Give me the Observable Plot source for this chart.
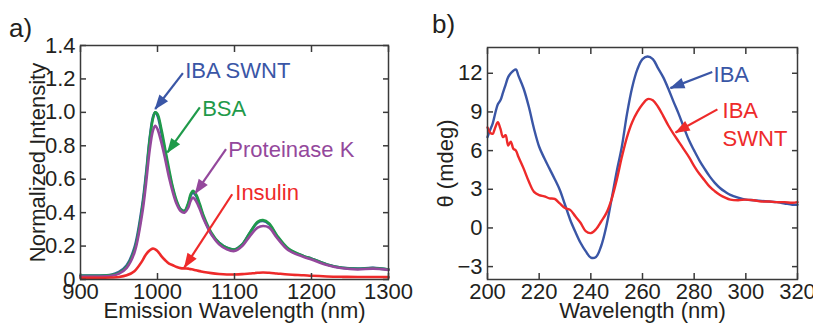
<!DOCTYPE html>
<html><head><meta charset="utf-8">
<script src="https://cdn.jsdelivr.net/npm/d3@7"></script>
<script src="https://cdn.jsdelivr.net/npm/@observablehq/plot@0.6"></script>
<style>
body{margin:0;background:#fff;}
#wrap{position:relative;width:813px;height:326px;font-family:"Liberation Sans",Arial,sans-serif;color:#231f20;}
#pa,#pb{position:absolute;top:0;}
#pa{left:0;} #pb{left:410px;}
.lab{position:absolute;font-size:26px;line-height:26px;}
</style></head>
<body><div id="wrap"><div id="pa"></div><div id="pb"></div>
<div class="lab" style="left:9px;top:15px">a)</div>
<div class="lab" style="left:432px;top:11px">b)</div></div>
<script>
// Panel a: emission spectra
const emWl = [900,920,940,950,960,970,980,985,990,994,997,1000,1005,1010,1015,1020,1025,1030,1035,1040,1043,1046,1050,1055,1060,1070,1080,1090,1100,1110,1120,1130,1137,1145,1155,1170,1190,1200,1220,1240,1260,1280,1300];
const ibaSwnt = [0.024,0.024,0.028,0.045,0.085,0.19,0.44,0.63,0.85,0.97,1.0,0.98,0.88,0.76,0.64,0.54,0.46,0.42,0.41,0.45,0.50,0.52,0.50,0.44,0.37,0.27,0.22,0.19,0.18,0.21,0.28,0.34,0.35,0.33,0.26,0.18,0.14,0.125,0.09,0.07,0.065,0.07,0.06];
const bsa = [0.022,0.022,0.026,0.04,0.078,0.175,0.42,0.61,0.84,0.96,1.0,0.99,0.90,0.78,0.66,0.55,0.47,0.42,0.41,0.46,0.51,0.53,0.51,0.45,0.38,0.28,0.22,0.19,0.18,0.21,0.28,0.345,0.355,0.335,0.265,0.185,0.14,0.125,0.09,0.07,0.064,0.068,0.06];
const protK = [0.018,0.018,0.022,0.035,0.07,0.16,0.39,0.57,0.78,0.89,0.92,0.90,0.82,0.72,0.61,0.52,0.45,0.41,0.40,0.43,0.47,0.49,0.47,0.42,0.36,0.27,0.21,0.18,0.17,0.20,0.26,0.31,0.32,0.31,0.25,0.175,0.135,0.12,0.087,0.067,0.06,0.065,0.057];
const insulin = [0.01,0.01,0.012,0.015,0.025,0.05,0.11,0.15,0.175,0.185,0.18,0.17,0.14,0.115,0.095,0.085,0.075,0.068,0.066,0.065,0.062,0.06,0.055,0.05,0.045,0.038,0.033,0.03,0.03,0.032,0.036,0.04,0.042,0.04,0.036,0.03,0.025,0.022,0.018,0.016,0.015,0.015,0.014];
const xTicksA = [900,1000,1100,1200,1300];
const yTicksA = [0,0.2,0.4,0.6,0.8,1.0,1.2,1.4];

// Panel b: CD spectra
const cdWl = [200,201,202,203,204,205,206,207,208,209,210,211,212,214,216,218,220,222,224,226,228,230,232,234,236,238,240,242,244,246,248,250,252,254,256,258,260,262,264,266,268,270,272,274,276,278,280,282,284,286,288,290,292,294,297,300,303,306,309,312,315,318,320];
const iba = [7.05,7.6,8.1,8.9,9.6,9.9,10.5,11.1,11.7,12.0,12.2,12.3,11.8,10.8,9.4,7.7,6.3,5.4,4.6,3.8,2.95,1.8,0.64,-0.3,-1.15,-1.8,-2.3,-2.25,-1.4,0.13,2.2,4.36,6.3,8.85,10.9,12.3,13.1,13.3,13.1,12.4,11.7,10.8,9.8,8.85,7.8,6.8,6.0,5.25,4.6,4.0,3.5,3.1,2.8,2.56,2.35,2.2,2.15,2.1,2.05,2.0,1.9,1.8,1.8];
const ibaSwntCd = [7.8,7.4,7.3,7.8,8.2,7.7,7.05,7.2,6.4,6.7,6.15,6.0,5.5,4.6,3.6,2.8,2.55,2.45,2.3,2.25,1.9,1.55,1.4,0.9,0.4,-0.25,-0.4,-0.1,0.5,1.15,2.2,3.7,5.5,7.05,8.2,9.0,9.6,10.0,9.9,9.4,8.7,7.95,7.3,6.7,6.1,5.5,4.8,4.2,3.7,3.2,2.85,2.56,2.35,2.2,2.15,2.2,2.15,2.05,2.05,2.0,2.0,1.95,2.0];
const xTicksB = [200,220,240,260,280,300,320];
const yTicksB = [-3,0,3,6,9,12];

const C = {blue:"#3a56a6", green:"#1f9a4a", purple:"#94489c", red:"#ee2a2a", ink:"#231f20", frame:"#3a3a3a"};
const FS = 22;

function filledHead(color){
  const m = d3.create("svg:marker")
    .attr("viewBox","-14 -6 15 12").attr("markerWidth",15).attr("markerHeight",12)
    .attr("markerUnits","userSpaceOnUse").attr("orient","auto").attr("overflow","visible");
  m.append("path").attr("d","M-14,-5.5L1,0L-14,5.5Z").attr("fill",color).attr("stroke","none");
  return m.node();
}

const series = [
  {name:"IBA SWNT", ys: ibaSwnt, color: C.blue},
  {name:"BSA", ys: bsa, color: C.green},
  {name:"Proteinase K", ys: protK, color: C.purple},
  {name:"Insulin", ys: insulin, color: C.red}
];
const rowsA = series.flatMap(s => emWl.map((x,i) => ({x, y: s.ys[i], name: s.name})));
const annA = [
  {name:"IBA SWNT", tx:1036, ty:1.245, x1:1033, y1:1.235, x2:997, y2:1.02, color:C.blue},
  {name:"BSA", tx:1058, ty:1.023, x1:1055, y1:1.03, x2:1013, y2:0.76, color:C.green},
  {name:"Proteinase K", tx:1092, ty:0.775, x1:1089, y1:0.78, x2:1049, y2:0.515, color:C.purple},
  {name:"Insulin", tx:1101, ty:0.515, x1:1097, y1:0.51, x2:1035, y2:0.072, color:C.red}
];

const common = {
  style:{fontFamily:'"Liberation Sans",Arial,sans-serif', fontSize:FS+"px", color:C.ink, background:"transparent", overflow:"visible"}
};
const ax = {fontSize:FS, stroke:C.frame, strokeWidth:1.5, label:null, tickSize:-6};

const plotA = Plot.plot({
  ...common,
  width:410, height:326, marginLeft:80, marginRight:22, marginTop:45, marginBottom:47,
  x:{domain:[900,1300]}, y:{domain:[0,1.4]},
  color:{domain:series.map(s=>s.name), range:series.map(s=>s.color)},
  marks:[
    Plot.line(rowsA, {x:"x", y:"y", z:"name", stroke:"name", strokeWidth:2.6, curve:"catmull-rom"}),
    Plot.frame({stroke:C.frame, strokeWidth:1.5}),
    Plot.axisX({...ax, ticks:xTicksA, tickPadding:10, tickFormat:d=>String(d)}),
    Plot.axisX({...ax, ticks:xTicksA, anchor:"top", tickFormat:()=>""}),
    Plot.axisY({...ax, ticks:yTicksA, tickPadding:11, tickFormat:d=>d===0?"0":d.toFixed(1)}),
    Plot.axisY({...ax, ticks:yTicksA, anchor:"right", tickFormat:()=>""}),
    Plot.link(annA, {x1:"x1", y1:"y1", x2:"x2", y2:"y2", stroke:"color", strokeWidth:2.2, markerEnd:filledHead}),
    Plot.text(annA, {x:"tx", y:"ty", text:"name", fill:"color", textAnchor:"start", fontSize:FS}),
    Plot.text(["Emission Wavelength (nm)"], {frameAnchor:"bottom", textAnchor:"middle", dy:38, fontSize:FS, fill:C.ink}),
    Plot.text(["Normalized Intensity"], {frameAnchor:"left", textAnchor:"middle", dx:-43, rotate:-90, fontSize:FS, fill:C.ink})
  ]
});
document.getElementById("pa").append(plotA);

const rowsB = [
  ...cdWl.map((x,i)=>({x, y:iba[i], name:"IBA"})),
  ...cdWl.map((x,i)=>({x, y:ibaSwntCd[i], name:"IBA SWNT"}))
];
const annB = [
  {text:"IBA", tx:287.5, ty:12.0, x1:287, y1:12.1, x2:270.8, y2:10.85, color:C.blue},
  {text:"IBA\nSWNT", tx:291, ty:8.15, x1:289, y1:9.2, x2:272.8, y2:7.4, color:C.red}
];
const plotB = Plot.plot({
  ...common,
  width:403, height:326, marginLeft:77, marginRight:16, marginTop:47, marginBottom:47,
  x:{domain:[200,320]}, y:{domain:[-4,14]},
  color:{domain:["IBA","IBA SWNT"], range:[C.blue, C.red]},
  marks:[
    Plot.line(rowsB, {x:"x", y:"y", z:"name", stroke:"name", strokeWidth:2.4, curve:"catmull-rom"}),
    Plot.frame({stroke:C.frame, strokeWidth:1.5}),
    Plot.axisX({...ax, ticks:xTicksB, tickPadding:10, tickFormat:d=>String(d)}),
    Plot.axisX({...ax, ticks:xTicksB, anchor:"top", tickFormat:()=>""}),
    Plot.axisY({...ax, ticks:yTicksB, tickPadding:11, tickFormat:d=>d<0?"\u2212"+(-d):String(d)}),
    Plot.axisY({...ax, ticks:yTicksB, anchor:"right", tickFormat:()=>""}),
    Plot.link(annB, {x1:"x1", y1:"y1", x2:"x2", y2:"y2", stroke:"color", strokeWidth:2.2, markerEnd:filledHead}),
    Plot.text(annB, {x:"tx", y:"ty", text:"text", fill:"color", textAnchor:"start", fontSize:FS, lineHeight:1.3}),
    Plot.text(["Wavelength (nm)"], {frameAnchor:"bottom", textAnchor:"middle", dy:38, fontSize:FS, fill:C.ink}),
    Plot.text(["θ (mdeg)"], {frameAnchor:"left", textAnchor:"middle", dx:-42, rotate:-90, fontSize:FS, fill:C.ink})
  ]
});
document.getElementById("pb").append(plotB);
</script></body></html>
